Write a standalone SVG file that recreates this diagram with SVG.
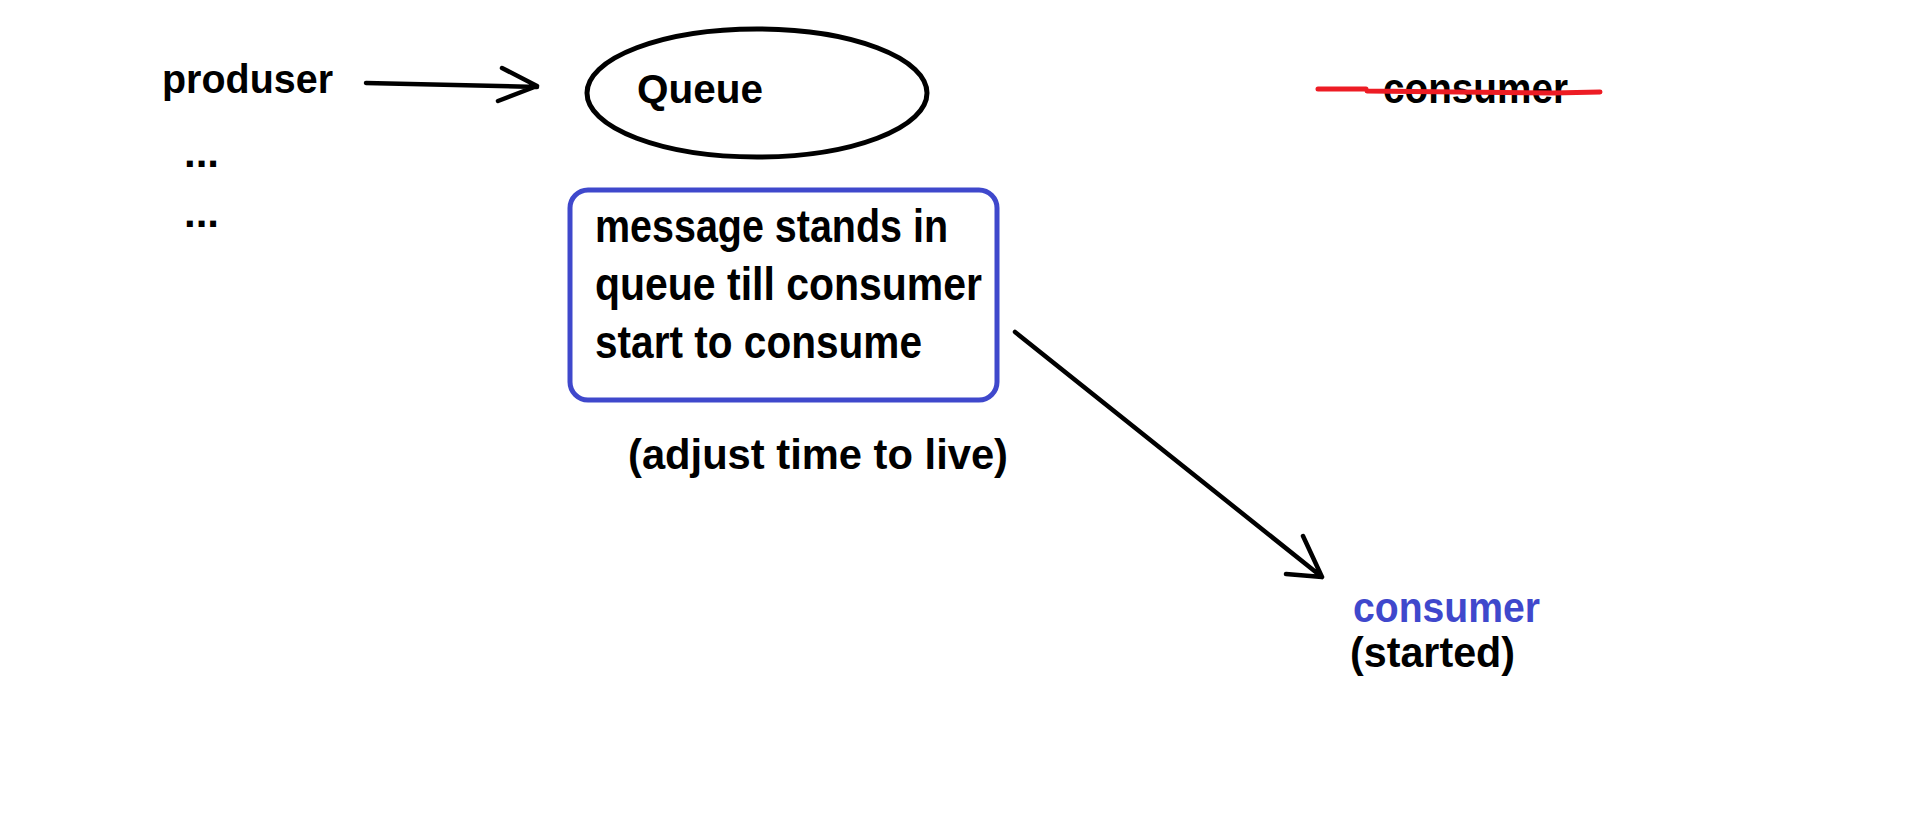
<svg xmlns="http://www.w3.org/2000/svg" width="1905" height="826" viewBox="0 0 1905 826">
<style>
.t{font-family:"Liberation Sans",Arial,sans-serif;font-weight:bold;fill:#000}
.blue{fill:#3f48cc}
.conn{fill:none;stroke:#000;stroke-width:4.5;stroke-linecap:round;stroke-linejoin:round}
.strike{fill:none;stroke:#ed1c24;stroke-width:5;stroke-linecap:round}
</style>
<rect width="1905" height="826" fill="#fff"/>
<g id="producer">
<text class="t" x="162" y="93" font-size="41" textLength="171" lengthAdjust="spacingAndGlyphs">produser</text>
<text class="t" x="184" y="167" font-size="42">...</text>
<text class="t" x="184" y="227" font-size="42">...</text>
</g>
<g id="queue">
<ellipse cx="757" cy="93" rx="170" ry="64" fill="none" stroke="#000" stroke-width="5"/>
<text class="t" x="637" y="103" font-size="41" textLength="126" lengthAdjust="spacingAndGlyphs">Queue</text>
</g>
<g id="note">
<rect x="570" y="190" width="427" height="210" rx="18" ry="18" fill="none" stroke="#3f48cc" stroke-width="5"/>
<text class="t" x="595" y="242" font-size="46" textLength="353" lengthAdjust="spacingAndGlyphs">message stands in</text>
<text class="t" x="595" y="300" font-size="46" textLength="387" lengthAdjust="spacingAndGlyphs">queue till consumer</text>
<text class="t" x="595" y="358" font-size="46" textLength="327" lengthAdjust="spacingAndGlyphs">start to consume</text>
</g>
<g id="ttl">
<text class="t" x="628" y="469" font-size="43" textLength="380" lengthAdjust="spacingAndGlyphs">(adjust time to live)</text>
</g>
<g id="consumer-old">
<text class="t" x="1383" y="103" font-size="43" textLength="185" lengthAdjust="spacingAndGlyphs">consumer</text>
<path class="strike" d="M1318,89 L1366,89 M1367,91 L1553,93 L1600,92"/>
</g>
<g id="consumer-started">
<text class="t blue" x="1353" y="622" font-size="43" textLength="187" lengthAdjust="spacingAndGlyphs">consumer</text>
<text class="t" x="1350" y="667" font-size="43" textLength="165" lengthAdjust="spacingAndGlyphs">(started)</text>
</g>
<g id="connectors">
<path class="conn" d="M366,83 L537,87 M502,68 L537,86 L498,101"/>
<path class="conn" d="M1015,332 L1322,577 M1303,536 L1322,577 L1286,574"/>
</g>
</svg>
